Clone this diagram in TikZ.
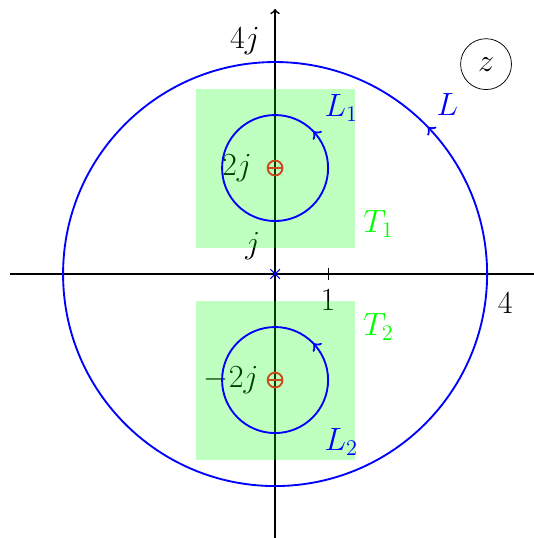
\documentclass[tikz,border=0pt]{standalone}
\usepackage{amsmath,amssymb}
\usetikzlibrary{decorations.markings}
\definecolor{polecol}{RGB}{200,75,25}

\begin{document}
\begin{tikzpicture}[every node/.style={font=\fontsize{18}{21}\selectfont}, contour/.style={blue, line width=1pt, postaction={decorate}, decoration={markings, mark=at position 0.122 with {\arrow[scale=1.2]{to}}}}, pole/.style={draw=polecol, line width=1pt, circle, minimum size=2.8mm, inner sep=0pt}]
	\useasboundingbox (-5.19,-4.98) rectangle (4.87,5.17);
	% axes
	\draw[line width=0.9pt, ->] (-5,0) -- (5,0);
	\draw[line width=0.9pt, ->] (0,-5) -- (0,5);
	\draw[line width=0.6pt] (1,-0.12) -- (1,0.12);
	\node (t1) at (1,-0.5) {$1$};
	\node (t4) at (4.34,-0.55) {$4$};
	\node (tj) at (-0.42,0.52) {$j$};
	\node (t4j) at (-0.57,4.4) {$4j$};
	\node (t2j) at (-0.72,2) {$2j$};
	\node (tm2j) at (-0.83,-2) {$-2j$};
	% regions
	\fill[green, opacity=0.25] (-1.5,0.5) rectangle (1.5,3.5);
	\fill[green, opacity=0.25] (-1.5,-0.5) rectangle (1.5,-3.5);
	\node[green] (T1) at (1.95,0.95) {$T_1$};
	\node[green] (T2) at (1.95,-1) {$T_2$};
	% contours
	\draw[contour] (0,0) circle (4);
	\foreach \y in {2,-2} {\draw[contour] (0,\y) circle (1);}
	\node[blue] (L) at (3.25,3.2) {$L$};
	\node[blue] (L1) at (1.25,3.13) {$L_1$};
	\node[blue] (L2) at (1.25,-3.17) {$L_2$};
	% poles and zero
	\foreach \y/\n in {2/p1,-2/p2} {
		\node[pole] (\n) at (0,\y) {};
		\draw[polecol, line width=0.6pt] (\n.west) -- (\n.east);
	}
	\draw[blue, line width=0.6pt] (-0.09,-0.09) -- (0.09,0.09) (-0.09,0.09) -- (0.09,-0.09);
	\node[draw, circle, minimum size=9.6mm, inner sep=0pt] (z) at (3.98,3.96) {$z$};
\end{tikzpicture}
\end{document}
